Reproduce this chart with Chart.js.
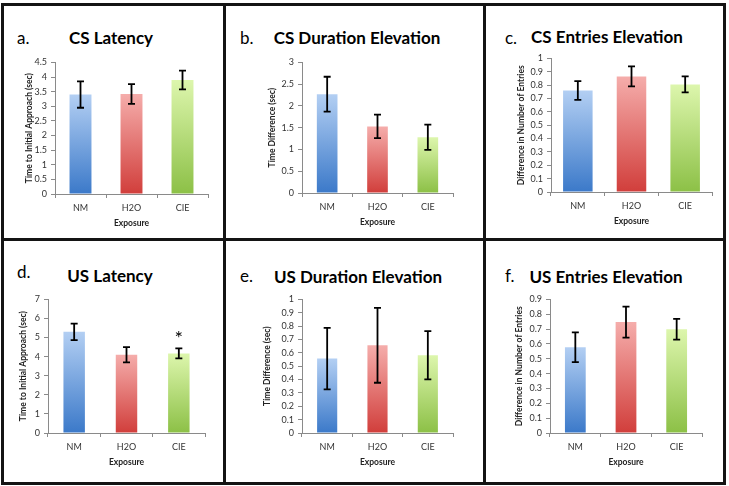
<!DOCTYPE html>
<html>
<head>
<meta charset="utf-8">
<script src="https://cdn.jsdelivr.net/npm/chart.js@4/dist/chart.umd.min.js"></script>
<style>
  body { margin: 0; background: #fff; }
  #fig { position: relative; width: 729px; height: 486px; overflow: hidden; font-family: Lato, "Open Sans", sans-serif; }
  .ln { position: absolute; background: #141414; }
  .ttl { position: absolute; transform: translate(-50%, -50%); font-weight: bold; font-size: 17px; white-space: nowrap; color: #000; }
  .let { position: absolute; transform: translateY(-50%); font-size: 17px; color: #000; }
  canvas { position: absolute; }
</style>
</head>
<body>
<div id="fig"></div>
<script>
// categories shared by every panel
const categories = ["NM", "H2O", "CIE"];

// a. CS Latency
const csLatencyMean = [3.4, 3.42, 3.9];
const csLatencyErr = [0.45, 0.34, 0.32];
// b. CS Duration Elevation
const csDurationMean = [2.27, 1.53, 1.28];
const csDurationErr = [0.4, 0.27, 0.29];
// c. CS Entries Elevation
const csEntriesMean = [0.76, 0.865, 0.805];
const csEntriesErr = [0.07, 0.075, 0.06];
// d. US Latency
const usLatencyMean = [5.3, 4.1, 4.17];
const usLatencyErr = [0.43, 0.4, 0.26];
const usLatencySig = ["", "", "*"];
// e. US Duration Elevation
const usDurationMean = [0.557, 0.656, 0.582];
const usDurationErr = [0.23, 0.28, 0.18];
// f. US Entries Elevation
const usEntriesMean = [0.578, 0.747, 0.699];
const usEntriesErr = [0.1, 0.105, 0.07];

// y-axis ticks
const latencyTicksA = [0, 0.5, 1, 1.5, 2, 2.5, 3, 3.5, 4, 4.5];
const durationTicksB = [0, 0.5, 1, 1.5, 2, 2.5, 3];
const tenthTicks = [0, 0.1, 0.2, 0.3, 0.4, 0.5, 0.6, 0.7, 0.8, 0.9, 1];
const latencyTicksD = [0, 1, 2, 3, 4, 5, 6, 7];

const fig = document.getElementById("fig");

// frame lines
const lines = [
  [1, 3, 725, 3], [1, 238, 725, 3], [1, 482, 725, 3],
  [1, 3, 3, 482], [223, 3, 3, 482], [483, 3, 3, 482], [723, 3, 3, 482],
];
for (let l of lines) {
  const d = document.createElement("div");
  d.className = "ln";
  d.style.left = l[0] + "px"; d.style.top = l[1] + "px";
  d.style.width = l[2] + "px"; d.style.height = l[3] + "px";
  fig.appendChild(d);
}

// bar gradients, light at top, dark at bottom
const barTop = ["#b3cff3", "#f5adab", "#ddf6ad"];
const barBottom = ["#3b79c9", "#d13e3b", "#8cc046"];

function barFill(ctx) {
  const chart = ctx.chart;
  const y = chart.scales.y;
  const i = ctx.dataIndex;
  if (!y || ctx.type !== "data" || !chart.chartArea) return barBottom[i];
  const yTop = y.getPixelForValue(ctx.raw);
  const yBot = y.getPixelForValue(0);
  const g = chart.ctx.createLinearGradient(0, yTop, 0, yBot);
  g.addColorStop(0, barTop[i]);
  g.addColorStop(1, barBottom[i]);
  return g;
}

// error bars + significance marks
const errorBars = {
  id: "errorBars",
  afterDatasetsDraw(chart) {
    const opts = chart.options.plugins.errorBars;
    const y = chart.scales.y;
    const meta = chart.getDatasetMeta(0);
    const c = chart.ctx;
    c.save();
    c.strokeStyle = "#000";
    c.lineWidth = 1.8;
    meta.data.forEach((bar, i) => {
      const v = chart.data.datasets[0].data[i];
      const hi = y.getPixelForValue(v + opts.err[i]);
      const lo = y.getPixelForValue(v - opts.err[i]);
      c.beginPath();
      c.moveTo(bar.x, hi); c.lineTo(bar.x, lo);
      c.moveTo(bar.x - 3.5, hi); c.lineTo(bar.x + 3.5, hi);
      c.moveTo(bar.x - 3.5, lo); c.lineTo(bar.x + 3.5, lo);
      c.stroke();
      if (opts.sig && opts.sig[i]) {
        c.fillStyle = "#000";
        c.font = "20px Lato, sans-serif";
        c.textAlign = "center";
        c.textBaseline = "middle";
        c.fillText(opts.sig[i], bar.x, hi - 10);
      }
    });
    c.restore();
  },
};

const panels = [
  { letter: "a.", title: "CS Latency", ytitle: "Time to Initial Approach (sec)", mean: csLatencyMean, err: csLatencyErr, ticks: latencyTicksA,
    plot: [55, 61, 208, 194], ttl: [111, 37], let: [17, 37], yt: 26, bw: 0.43 },
  { letter: "b.", title: "CS Duration Elevation", ytitle: "Time Difference (sec)", mean: csDurationMean, err: csDurationErr, ticks: durationTicksB,
    plot: [302, 61, 453, 193], ttl: [357, 37], let: [240, 37], yt: 30, bw: 0.41 },
  { letter: "c.", title: "CS Entries Elevation", ytitle: "Difference in Number of Entries", mean: csEntriesMean, err: csEntriesErr, ticks: tenthTicks,
    plot: [551, 57, 712, 192], ttl: [607, 36], let: [505, 37], yt: 30, bw: 0.55 },
  { letter: "d.", title: "US Latency", ytitle: "Time to Initial Approach (sec)", mean: usLatencyMean, err: usLatencyErr, ticks: latencyTicksD, sig: usLatencySig,
    plot: [48, 298, 205, 433], ttl: [110, 275], let: [17, 271], yt: 25, bw: 0.41 },
  { letter: "e.", title: "US Duration Elevation", ytitle: "Time Difference (sec)", mean: usDurationMean, err: usDurationErr, ticks: tenthTicks,
    plot: [302, 298, 453, 433], ttl: [358, 276], let: [240, 275], yt: 35, bw: 0.4 },
  { letter: "f.", title: "US Entries Elevation", ytitle: "Difference in Number of Entries", mean: usEntriesMean, err: usEntriesErr, ticks: tenthTicks.slice(0, 10),
    plot: [550, 298, 702, 433], ttl: [606, 276], let: [505, 275], yt: 31, bw: 0.41 },
];

const padT = 8, padR = 8, xH = 34;

panels.forEach((p, n) => {
  const t = document.createElement("div");
  t.className = "ttl";
  t.textContent = p.title;
  t.style.left = p.ttl[0] + "px"; t.style.top = p.ttl[1] + "px";
  fig.appendChild(t);

  const l = document.createElement("div");
  l.className = "let";
  l.textContent = p.letter;
  l.style.left = p.let[0] + "px"; l.style.top = p.let[1] + "px";
  fig.appendChild(l);

  const yW = p.yt + 5;
  const left = p.plot[0] - yW;
  const top = p.plot[1] - padT;
  const w = p.plot[2] + padR - left;
  const h = p.plot[3] + xH - top;

  const cv = document.createElement("canvas");
  cv.id = "chart" + n;
  cv.style.left = left + "px"; cv.style.top = top + "px";
  cv.style.width = w + "px"; cv.style.height = h + "px";
  cv.width = w; cv.height = h;
  fig.appendChild(cv);

  new Chart(cv.getContext("2d"), {
    type: "bar",
    data: {
      labels: categories,
      datasets: [{ data: p.mean, backgroundColor: barFill, borderWidth: 0, barPercentage: p.bw, categoryPercentage: 1 }],
    },
    options: {
      responsive: false,
      animation: false,
      layout: { padding: { top: padT, right: padR, left: 0, bottom: 0 } },
      plugins: {
        legend: { display: false },
        tooltip: { enabled: false },
        errorBars: { err: p.err, sig: p.sig },
      },
      scales: {
        x: {
          afterFit: (s) => { s.height = xH; },
          grid: { display: true, drawOnChartArea: false, drawTicks: true, tickLength: 4, color: "#8a8a8a", offset: true },
          border: { display: true, color: "#8a8a8a" },
          ticks: { padding: 5, color: "#333", font: { family: "Lato", size: 9 } },
          title: { display: true, text: "Exposure", padding: 0, color: "#222", font: { family: "Lato", size: 8.5, weight: "bold", lineHeight: 1.2 } },
        },
        y: {
          min: 0,
          max: p.ticks[p.ticks.length - 1],
          afterFit: (s) => { s.width = yW; },
          afterBuildTicks: (s) => { s.ticks = p.ticks.map((v) => ({ value: v })); },
          grid: { display: true, drawOnChartArea: false, drawTicks: true, tickLength: 4, color: "#8a8a8a" },
          border: { display: true, color: "#8a8a8a" },
          ticks: { autoSkip: false, padding: 4, color: "#333", font: { family: "Lato", size: 9 }, callback: (v) => String(+v.toFixed(2)) },
          title: { display: true, text: p.ytitle, padding: 0, color: "#222", font: { family: "Lato", size: 8.5, weight: "bold", lineHeight: 1.2 } },
        },
      },
    },
    plugins: [errorBars],
  });
});
</script>
</body>
</html>
